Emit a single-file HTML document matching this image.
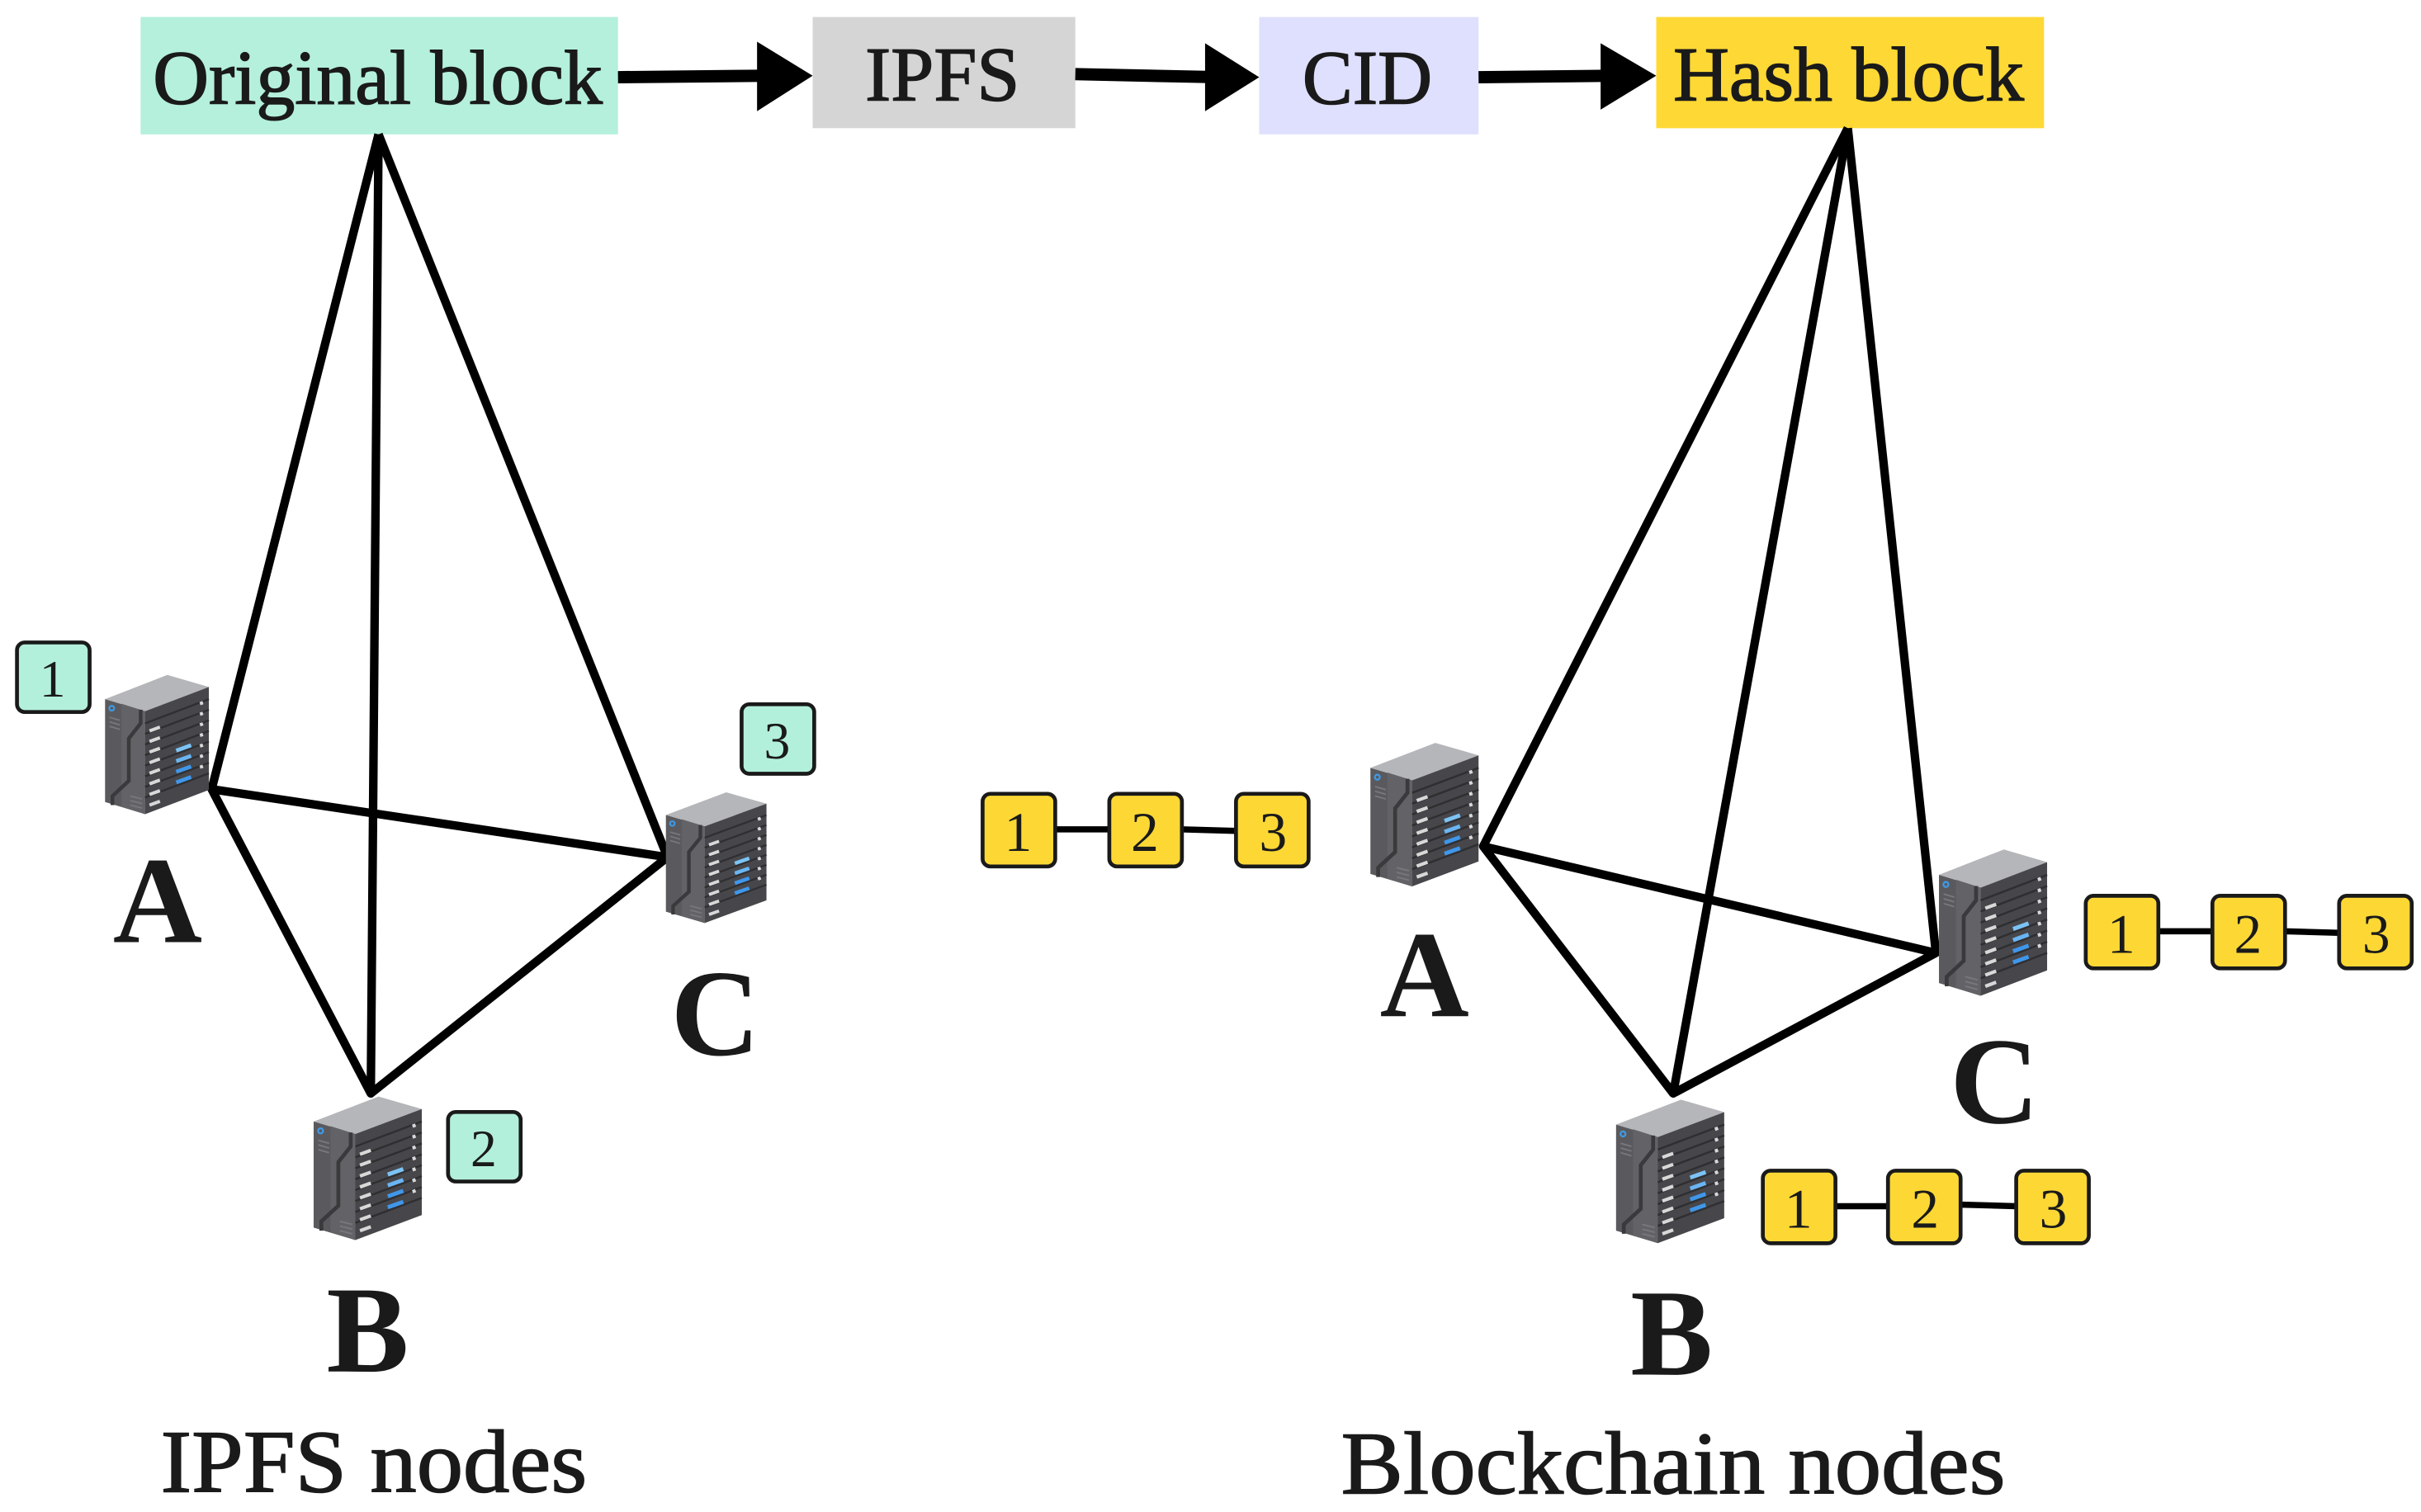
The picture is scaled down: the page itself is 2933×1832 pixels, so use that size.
<!DOCTYPE html>
<html><head><meta charset="utf-8"><style>
html,body{margin:0;padding:0;background:#fff;}
svg{display:block}
text{font-family:"Liberation Serif",serif;fill:#1a1a1a}
</style></head><body>
<svg width="2933" height="1832" viewBox="0 0 1567 979" preserveAspectRatio="none" xmlns="http://www.w3.org/2000/svg">
<defs>
<g id="srv">
  <polygon points="0,16 42,0 70,8 27,24" fill="#b5b6b9"/>
  <polygon points="0,16 27,24 27,92 0,84" fill="#5a5a5e"/>
  <polygon points="11,19 27,24 27,92 11,87" fill="#636367"/>
  <polyline points="24,23 24,32 16,42 16,70 5,80 5,86" fill="none" stroke="#3a3a3d" stroke-width="2.5"/>
  <circle cx="4.5" cy="22" r="1.6" fill="none" stroke="#3d9be9" stroke-width="1.2"/>
  <g stroke="#78787c" stroke-width="1"><line x1="3" y1="28" x2="10" y2="30"/><line x1="3" y1="31" x2="10" y2="33"/><line x1="3" y1="34" x2="10" y2="36"/><line x1="17" y1="80" x2="25" y2="82"/><line x1="17" y1="83" x2="25" y2="85"/><line x1="17" y1="86" x2="25" y2="88"/></g>
  <polygon points="27,24 70,8 70,76 27,92" fill="#47474b"/>
  <g stroke="#2f2f32" stroke-width="1.3">
    <line x1="27" y1="32" x2="70" y2="16"/><line x1="27" y1="39" x2="70" y2="23"/><line x1="27" y1="46" x2="70" y2="30"/><line x1="27" y1="53" x2="70" y2="37"/><line x1="27" y1="60" x2="70" y2="44"/><line x1="27" y1="67" x2="70" y2="51"/><line x1="27" y1="74" x2="70" y2="58"/><line x1="27" y1="81" x2="70" y2="65"/>
  </g>
  <g stroke="#d8d8d8" stroke-width="2.2">
    <line x1="30" y1="37" x2="37" y2="34.5"/><line x1="30" y1="44" x2="37" y2="41.5"/><line x1="30" y1="51" x2="37" y2="48.5"/><line x1="30" y1="58" x2="37" y2="55.5"/><line x1="30" y1="65" x2="37" y2="62.5"/><line x1="30" y1="72" x2="37" y2="69.5"/><line x1="30" y1="79" x2="37" y2="76.5"/><line x1="30" y1="86" x2="37" y2="83.5"/>
    <line x1="64" y1="19" x2="66" y2="18.3"/><line x1="64" y1="26" x2="66" y2="25.3"/><line x1="64" y1="33" x2="66" y2="32.3"/><line x1="64" y1="40" x2="66" y2="39.3"/><line x1="64" y1="47" x2="66" y2="46.3"/><line x1="64" y1="54" x2="66" y2="53.3"/><line x1="64" y1="61" x2="66" y2="60.3"/>
  </g>
  <g stroke-width="2.6"><line x1="48" y1="50" x2="58" y2="46.5" stroke="#7cc3f5"/><line x1="48" y1="57" x2="58" y2="53.5" stroke="#6ab5f2"/><line x1="48" y1="64" x2="58" y2="60.5" stroke="#3f97ea"/><line x1="48" y1="71" x2="58" y2="67.5" stroke="#3f97ea"/></g>
</g>
<g id="gb"><rect x="0" y="0" width="47" height="45" rx="5" fill="#b3f0dc" stroke="#1a1a1a" stroke-width="2.5"/></g>
<g id="yb"><rect x="0" y="0" width="47" height="47" rx="5" fill="#fdd835" stroke="#1a1a1a" stroke-width="2.5"/></g>
</defs>

<!-- top flow -->
<rect x="91" y="11" width="309" height="76" fill="#b4f0dc"/>
<rect x="526" y="11" width="170" height="72" fill="#d5d5d5"/>
<rect x="815" y="11" width="142" height="76" fill="#dfe0fd"/>
<rect x="1072" y="11" width="251" height="72" fill="#fed835"/>
<g font-size="50" stroke="#1a1a1a" stroke-width="0.8">
<text x="99" y="67" textLength="291" lengthAdjust="spacingAndGlyphs">Original block</text>
<text x="560" y="65" textLength="100" lengthAdjust="spacingAndGlyphs">IPFS</text>
<text x="843" y="67" textLength="84" lengthAdjust="spacingAndGlyphs">CID</text>
<text x="1083" y="65" textLength="227" lengthAdjust="spacingAndGlyphs">Hash block</text>
</g>
<g stroke="#000" stroke-width="8"><line x1="400" y1="50" x2="500" y2="49"/><line x1="696" y1="48" x2="790" y2="50"/><line x1="957" y1="50" x2="1048" y2="49"/></g>
<g fill="#000"><polygon points="490,27 526,49 490,72"/><polygon points="780,28 815,50 780,72"/><polygon points="1036,28 1072,49 1036,71"/></g>

<!-- left network -->
<g stroke="#000" stroke-width="5.5" fill="none" stroke-linejoin="round">
<polyline points="245,87 137,511 240,708 432,555 137,511"/>
<line x1="245" y1="87" x2="240" y2="708"/>
<line x1="245" y1="87" x2="432" y2="555"/>
</g>
<!-- right network -->
<g stroke="#000" stroke-width="5.5" fill="none" stroke-linejoin="round">
<polyline points="1196,83 960,548 1083,708 1253,617 960,548"/>
<line x1="1196" y1="83" x2="1083" y2="708"/>
<line x1="1196" y1="83" x2="1253" y2="617"/>
</g>

<use href="#srv" transform="translate(68,437) scale(0.96,0.98)"/>
<use href="#srv" transform="translate(431,513) scale(0.93,0.92)"/>
<use href="#srv" transform="translate(203,710) scale(1.0,1.01)"/>
<use href="#srv" transform="translate(887,481) scale(1.0,1.01)"/>
<use href="#srv" transform="translate(1255,550) scale(1.0,1.03)"/>
<use href="#srv" transform="translate(1046,712) scale(1.0,1.01)"/>

<use href="#gb" x="11" y="416"/><text x="34" y="451" font-size="34" text-anchor="middle">1</text>
<use href="#gb" x="480" y="456"/><text x="503" y="491" font-size="34" text-anchor="middle">3</text>
<use href="#gb" x="290" y="720"/><text x="313" y="755" font-size="34" text-anchor="middle">2</text>

<g stroke="#000" stroke-width="4">
<line x1="683" y1="537" x2="718" y2="537"/><line x1="765" y1="537" x2="800" y2="538"/>
<line x1="1397" y1="603" x2="1432" y2="603"/><line x1="1479" y1="603" x2="1514" y2="604"/>
<line x1="1188" y1="781" x2="1222" y2="781"/><line x1="1270" y1="780" x2="1305" y2="781"/>
</g>
<g font-size="36" text-anchor="middle">
<use href="#yb" x="636" y="514"/><text x="659" y="551">1</text>
<use href="#yb" x="718" y="514"/><text x="741" y="551">2</text>
<use href="#yb" x="800" y="514"/><text x="824" y="551">3</text>
<use href="#yb" x="1350" y="580"/><text x="1373" y="617">1</text>
<use href="#yb" x="1432" y="580"/><text x="1455" y="617">2</text>
<use href="#yb" x="1514" y="580"/><text x="1538" y="617">3</text>
<use href="#yb" x="1141" y="758"/><text x="1164" y="795">1</text>
<use href="#yb" x="1222" y="758"/><text x="1246" y="795">2</text>
<use href="#yb" x="1305" y="758"/><text x="1329" y="795">3</text>
</g>

<g font-size="80" font-weight="bold" text-anchor="middle">
<text x="102" y="610">A</text>
<text x="463" y="683">C</text>
<text x="238" y="888">B</text>
<text x="922" y="658">A</text>
<text x="1291" y="727">C</text>
<text x="1082" y="890">B</text>
</g>
<g font-size="58" stroke="#1a1a1a" stroke-width="0.8">
<text x="104" y="966" textLength="276" lengthAdjust="spacingAndGlyphs">IPFS nodes</text>
<text x="868" y="967" textLength="430" lengthAdjust="spacingAndGlyphs">Blockchain nodes</text>
</g>
</svg>
</body></html>
